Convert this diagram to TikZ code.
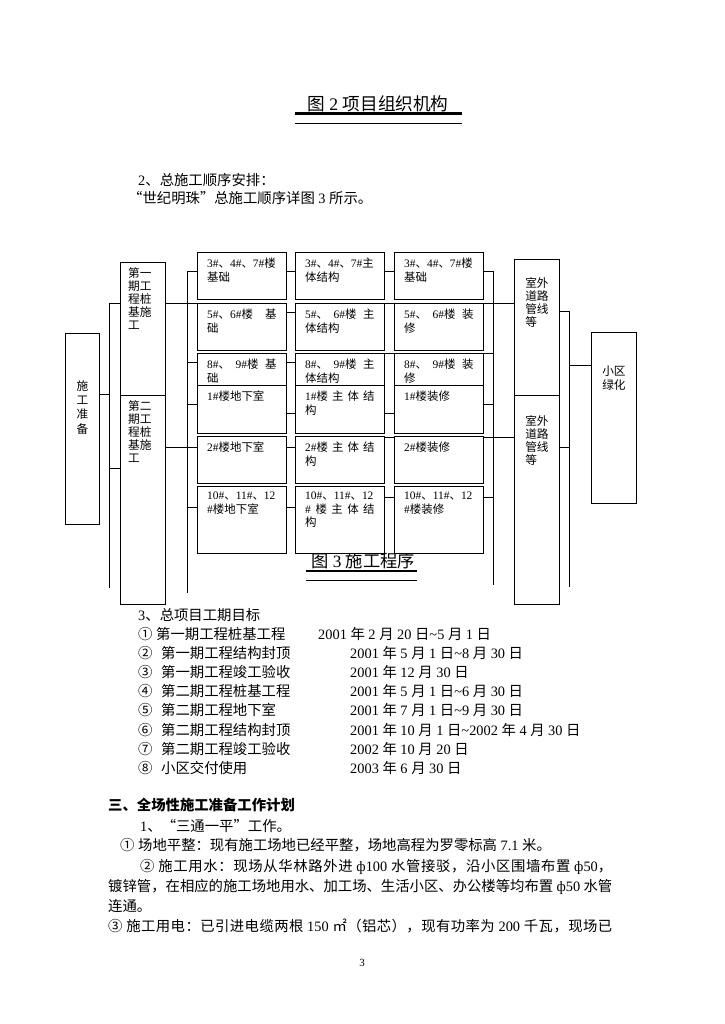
\documentclass[tikz,border=0pt]{standalone}
\usepackage{fontspec}
\setmainfont{Liberation Serif}
\newfontfamily\cjkfont{Noto Sans CJK SC}
% Chinese glyphs from Noto, digits and Latin from Liberation Serif
\XeTeXinterchartokenstate=1
\newXeTeXintercharclass\cjkclass
\newcount\cjkcode
\newcommand\cjkrange[2]{%
  \cjkcode=#1\relax
  \loop\XeTeXcharclass\cjkcode=\cjkclass\relax
    \advance\cjkcode by 1\relax
  \ifnum\cjkcode<#2\relax\repeat}
\cjkrange{"4E00}{"A000}
\cjkrange{"3000}{"3040}
\cjkrange{"FF00}{"FFF0}
\cjkrange{"2460}{"2500}
\cjkrange{"3300}{"3400}
\XeTeXcharclass"201C=\cjkclass
\XeTeXcharclass"201D=\cjkclass
\XeTeXinterchartoks 0 \cjkclass={\cjkfont}
\XeTeXinterchartoks 4095 \cjkclass={\cjkfont}
\XeTeXinterchartoks \cjkclass 0={\rmfamily}
\XeTeXinterchartoks \cjkclass 4095={\rmfamily}
\XeTeXinterchartoks \cjkclass \cjkclass={\hskip0pt plus 0.3em\relax}
\tolerance=10000
\hbadness=10000

\newdimen\pxu \pxu=0.822pt
\newcommand\diagfont{\fontsize{9.4}{11}\selectfont}
\newcommand\stackfont{\fontsize{9.6}{10.8}\selectfont}
\newcommand\txtfont{\fontsize{11.8}{15}\selectfont}

\tikzset{
  cellbox/.style={rectangle,draw,fill=white,anchor=north west,inner sep=0pt,line width=0.9pt},
  celltext/.style={anchor=north west,inner sep=0pt,align=justify,text width=57pt,font=\diagfont},
  stacktext/.style={anchor=north west,inner sep=0pt,align=left,font=\stackfont},
  link/.style={line width=0.8pt},
  textline/.style={anchor=base west,inner sep=0pt,font=\txtfont}
}

\begin{document}
\begin{tikzpicture}[x=0.822pt,y=-0.822pt]
\path[fill=white,use as bounding box] (0,0) rectangle (724,1024);

% heading and intro
\node[font=\fontsize{14.5}{17}\selectfont,anchor=base] (fig2) at (378,110) {图 2 项目组织机构};
\draw[line width=1.8pt] (295,113.5) -- (462,113.5);
\draw[line width=0.8pt] (295,123) -- (462,123);
\node[textline] (intro1) at (138,185) {2、总施工顺序安排：};
\node[textline] (intro2) at (128,203) {“世纪明珠”总施工顺序详图 3 所示。};

% caption sits under the boxes
\node[font=\fontsize{14.2}{17}\selectfont,anchor=base] (fig3) at (363,567) {图 3 施工程序};
\draw[line width=1.8pt] (306,571) -- (417,571);
\draw[line width=0.8pt] (306,580) -- (417,580);

% boxes
\node[cellbox,minimum width=34*\pxu,minimum height=191*\pxu] (prep) at (65,333) {};
\node[cellbox,minimum width=45*\pxu,minimum height=133*\pxu] (ph1) at (120,262) {};
\node[cellbox,minimum width=45*\pxu,minimum height=209*\pxu] (ph2) at (120,395) {};

\node[cellbox,minimum width=89*\pxu,minimum height=47*\pxu] (c11) at (197,252) {};
\node[cellbox,minimum width=89*\pxu,minimum height=47*\pxu] (c12) at (295,252) {};
\node[cellbox,minimum width=89*\pxu,minimum height=47*\pxu] (c13) at (394,252) {};
\node[cellbox,minimum width=89*\pxu,minimum height=47*\pxu] (c21) at (197,303) {};
\node[cellbox,minimum width=89*\pxu,minimum height=47*\pxu] (c22) at (295,303) {};
\node[cellbox,minimum width=89*\pxu,minimum height=47*\pxu] (c23) at (394,303) {};
\node[cellbox,minimum width=89*\pxu,minimum height=32*\pxu] (c31) at (197,353) {};
\node[cellbox,minimum width=89*\pxu,minimum height=32*\pxu] (c32) at (295,353) {};
\node[cellbox,minimum width=89*\pxu,minimum height=32*\pxu] (c33) at (394,353) {};
\node[cellbox,minimum width=89*\pxu,minimum height=48*\pxu] (c41) at (197,385) {};
\node[cellbox,minimum width=89*\pxu,minimum height=48*\pxu] (c42) at (295,385) {};
\node[cellbox,minimum width=89*\pxu,minimum height=48*\pxu] (c43) at (394,385) {};
\node[cellbox,minimum width=89*\pxu,minimum height=47*\pxu] (c51) at (197,436) {};
\node[cellbox,minimum width=89*\pxu,minimum height=47*\pxu] (c52) at (295,436) {};
\node[cellbox,minimum width=89*\pxu,minimum height=47*\pxu] (c53) at (394,436) {};
\node[cellbox,minimum width=89*\pxu,minimum height=67*\pxu] (c61) at (197,486) {};
\node[cellbox,minimum width=89*\pxu,minimum height=67*\pxu] (c62) at (295,486) {};
\node[cellbox,minimum width=89*\pxu,minimum height=67*\pxu] (c63) at (394,486) {};

\node[cellbox,minimum width=45*\pxu,minimum height=136*\pxu] (out1) at (514,259) {};
\node[cellbox,minimum width=45*\pxu,minimum height=209*\pxu] (out2) at (514,395) {};
\node[cellbox,minimum width=45*\pxu,minimum height=171*\pxu] (green) at (591,332) {};

% box texts
\node[stacktext,anchor=north,align=center,font=\fontsize{9.6}{11.8}\selectfont] (prep-t) at ([yshift=-47*\pxu]prep.north) {施\\工\\准\\备};
\node[stacktext] (ph1-t) at ([xshift=8*\pxu,yshift=-5*\pxu]ph1.north west) {第一\\期工\\程桩\\基施\\工};
\node[stacktext] (ph2-t) at ([xshift=8*\pxu,yshift=-5*\pxu]ph2.north west) {第二\\期工\\程桩\\基施\\工};
\node[celltext] (c11-t) at ([xshift=10*\pxu,yshift=-6*\pxu]c11.north west) {3\#、4\#、7\#楼\\基础};
\node[celltext] (c12-t) at ([xshift=10*\pxu,yshift=-6*\pxu]c12.north west) {3\#、4\#、7\#主\\体结构};
\node[celltext] (c13-t) at ([xshift=10*\pxu,yshift=-6*\pxu]c13.north west) {3\#、4\#、7\#楼\\基础};
\node[celltext] (c21-t) at ([xshift=10*\pxu,yshift=-6*\pxu]c21.north west) {5\#、6\#楼 基\linebreak 础};
\node[celltext] (c22-t) at ([xshift=10*\pxu,yshift=-6*\pxu]c22.north west) {5\#、 6\#楼主\linebreak 体结构};
\node[celltext] (c23-t) at ([xshift=10*\pxu,yshift=-6*\pxu]c23.north west) {5\#、 6\#楼装\linebreak 修};
\node[celltext] (c31-t) at ([xshift=10*\pxu,yshift=-6*\pxu]c31.north west) {8\#、 9\#楼基\linebreak 础};
\node[celltext] (c32-t) at ([xshift=10*\pxu,yshift=-6*\pxu]c32.north west) {8\#、 9\#楼主\linebreak 体结构};
\node[celltext] (c33-t) at ([xshift=10*\pxu,yshift=-6*\pxu]c33.north west) {8\#、 9\#楼装\linebreak 修};
\node[celltext] (c41-t) at ([xshift=10*\pxu,yshift=-6*\pxu]c41.north west) {1\#楼地下室};
\node[celltext] (c42-t) at ([xshift=10*\pxu,yshift=-6*\pxu]c42.north west) {1\#楼主体结\linebreak 构};
\node[celltext] (c43-t) at ([xshift=10*\pxu,yshift=-6*\pxu]c43.north west) {1\#楼装修};
\node[celltext] (c51-t) at ([xshift=10*\pxu,yshift=-6*\pxu]c51.north west) {2\#楼地下室};
\node[celltext] (c52-t) at ([xshift=10*\pxu,yshift=-6*\pxu]c52.north west) {2\#楼主体结\linebreak 构};
\node[celltext] (c53-t) at ([xshift=10*\pxu,yshift=-6*\pxu]c53.north west) {2\#楼装修};
\node[celltext] (c61-t) at ([xshift=10*\pxu,yshift=-6*\pxu]c61.north west) {10\#、11\#、12\\\#楼地下室};
\node[celltext] (c62-t) at ([xshift=10*\pxu,yshift=-6*\pxu]c62.north west) {10\#、11\#、12\\\# 楼主体结\linebreak 构};
\node[celltext] (c63-t) at ([xshift=10*\pxu,yshift=-6*\pxu]c63.north west) {10\#、11\#、12\\\#楼装修};
\node[stacktext] (out1-t) at ([xshift=11*\pxu,yshift=-18*\pxu]out1.north west) {室外\\道路\\管线\\等};
\node[stacktext] (out2-t) at ([xshift=11*\pxu,yshift=-20*\pxu]out2.north west) {室外\\道路\\管线\\等};
\node[stacktext] (green-t) at ([xshift=11*\pxu,yshift=-34*\pxu]green.north west) {小区\\绿化};

% bus lines
\coordinate (a0) at (109,303);
\coordinate (a1) at (109,394);
\coordinate (a2) at (109,468);
\coordinate (a3) at (109,588);
\coordinate (b0) at (187,271);
\coordinate (b7) at (187,593);
\coordinate (cTop) at (493,271);
\coordinate (cBot) at (493,585);
\coordinate (dTop) at (569,311);
\coordinate (dMid) at (569,365);
\coordinate (dLow) at (569,447);
\coordinate (dBot) at (569,587);
% row levels
\coordinate (r1) at (0,271);
\coordinate (r2a) at (0,312);
\coordinate (r2b) at (0,303);
\coordinate (r3a) at (0,362);
\coordinate (r3b) at (0,353);
\coordinate (r4a) at (0,413);
\coordinate (r4b) at (0,404);
\coordinate (r5a) at (0,447);
\coordinate (r5b) at (0,437);
\coordinate (r6a) at (0,507);
\coordinate (r6b) at (0,497);

\draw[link] (a0) -- (a3);
\draw[link] (a1) -- (a1 -| prep.east);
\draw[link] (a0) -- (a0 -| ph1.west);
\draw[link] (a2) -- (a2 -| ph2.west);

\draw[link] (b0) -- (b7);
\draw[link] (b0) -- (b0 -| c11.west);
\draw[link] (r2b -| ph1.east) -- (r2b -| c21.west);
\draw[link] (r3a -| b0) -- (r3a -| c31.west);
\draw[link] (r4b -| b0) -- (r4b -| c41.west);
\draw[link] (r5a -| ph2.east) -- (r5a -| c51.west);
\draw[link] (r6a -| b0) -- (r6a -| c61.west);

\draw[link] (r1 -| c11.east) -- (r1 -| c12.west);
\draw[link] (r1 -| c12.east) -- (r1 -| c13.west);
\draw[link] (r2a -| c21.east) -- (r2a -| c22.west);
\draw[link] (r2b -| c22.east) -- (r2b -| c23.west);
\draw[link] (r3a -| c31.east) -- (r3a -| c32.west);
\draw[link] (r3b -| c32.east) -- (r3b -| c33.west);
\draw[link] (r4a -| c41.east) -- (r4a -| c42.west);
\draw[link] (r4a -| c42.east) -- (r4a -| c43.west);
\draw[link] (r5a -| c51.east) -- (r5a -| c52.west);
\draw[link] (r5b -| c52.east) -- (r5b -| c53.west);
\draw[link] (r6a -| c61.east) -- (r6a -| c62.west);
\draw[link] (r6b -| c62.east) -- (r6b -| c63.west);

\draw[link] (cTop) -- (cBot);
\draw[link] (r1 -| c13.east) -- (cTop);
\draw[link] (r2b -| c23.east) -- (r2b -| out1.west);
\draw[link] (r3b -| c33.east) -- (r3b -| cTop);
\draw[link] (r4b -| c43.east) -- (r4b -| cTop);
\draw[link] (r5b -| c53.east) -- (r5b -| out2.west);
\draw[link] (r6b -| c63.east) -- (r6b -| cTop);

\draw[link] (dTop) -- (dBot);
\draw[link] (dTop -| out1.east) -- (dTop);
\draw[link] (dLow -| out2.east) -- (dLow);
\draw[link] (dMid) -- (dMid -| green.west);

% schedule
\node[textline] (goal) at (138,620) {3、总项目工期目标};
\node[textline] (g1) at (138,639) {① 第一期工程桩基工程};
\node[textline] (g1d) at (318,639) {2001 年 2 月 20 日\textasciitilde 5 月 1 日};
\node[textline] (g2) at (138,658) {②\hspace{0.6em}第一期工程结构封顶};
\node[textline] (g2d) at (350,658) {2001 年 5 月 1 日\textasciitilde 8 月 30 日};
\node[textline] (g3) at (138,677) {③\hspace{0.6em}第一期工程竣工验收};
\node[textline] (g3d) at (350,677) {2001 年 12 月 30 日};
\node[textline] (g4) at (138,696.5) {④\hspace{0.6em}第二期工程桩基工程};
\node[textline] (g4d) at (350,696.5) {2001 年 5 月 1 日\textasciitilde 6 月 30 日};
\node[textline] (g5) at (138,715.5) {⑤\hspace{0.6em}第二期工程地下室};
\node[textline] (g5d) at (350,715.5) {2001 年 7 月 1 日\textasciitilde 9 月 30 日};
\node[textline] (g6) at (138,735) {⑥\hspace{0.6em}第二期工程结构封顶};
\node[textline] (g6d) at (350,735) {2001 年 10 月 1 日\textasciitilde 2002 年 4 月 30 日};
\node[textline] (g7) at (138,754) {⑦\hspace{0.6em}第二期工程竣工验收};
\node[textline] (g7d) at (350,754) {2002 年 10 月 20 日};
\node[textline] (g8) at (138,773) {⑧\hspace{0.6em}小区交付使用};
\node[textline] (g8d) at (350,773) {2003 年 6 月 30 日};

% section three
\node[textline,font=\txtfont\bfseries] (sec3) at (108,810) {三、全场性施工准备工作计划};
\node[textline] (s1) at (140,831) {1、“三通一平”工作。};
\node[textline] (s2) at (120,850) {① 场地平整：现有施工场地已经平整，场地高程为罗零标高 7.1 米。};
\node[textline] (s3) at (140,871) {\makebox[472\pxu][s]{② 施工用水：现场从华林路外进 ф100 水管接驳，沿小区围墙布置 ф50，}};
\node[textline] (s4) at (108,891) {\makebox[504\pxu][s]{镀锌管，在相应的施工场地用水、加工场、生活小区、办公楼等均布置 ф50 水管}};
\node[textline] (s5) at (108,911) {连通。};
\node[textline] (s6) at (108,931) {\makebox[504\pxu][s]{③ 施工用电：已引进电缆两根 150 ㎡（铝芯），现有功率为 200 千瓦，现场已}};
\node[font=\fontsize{9}{10}\selectfont,anchor=base] (pg) at (362,966) {3};
\end{tikzpicture}
\end{document}
